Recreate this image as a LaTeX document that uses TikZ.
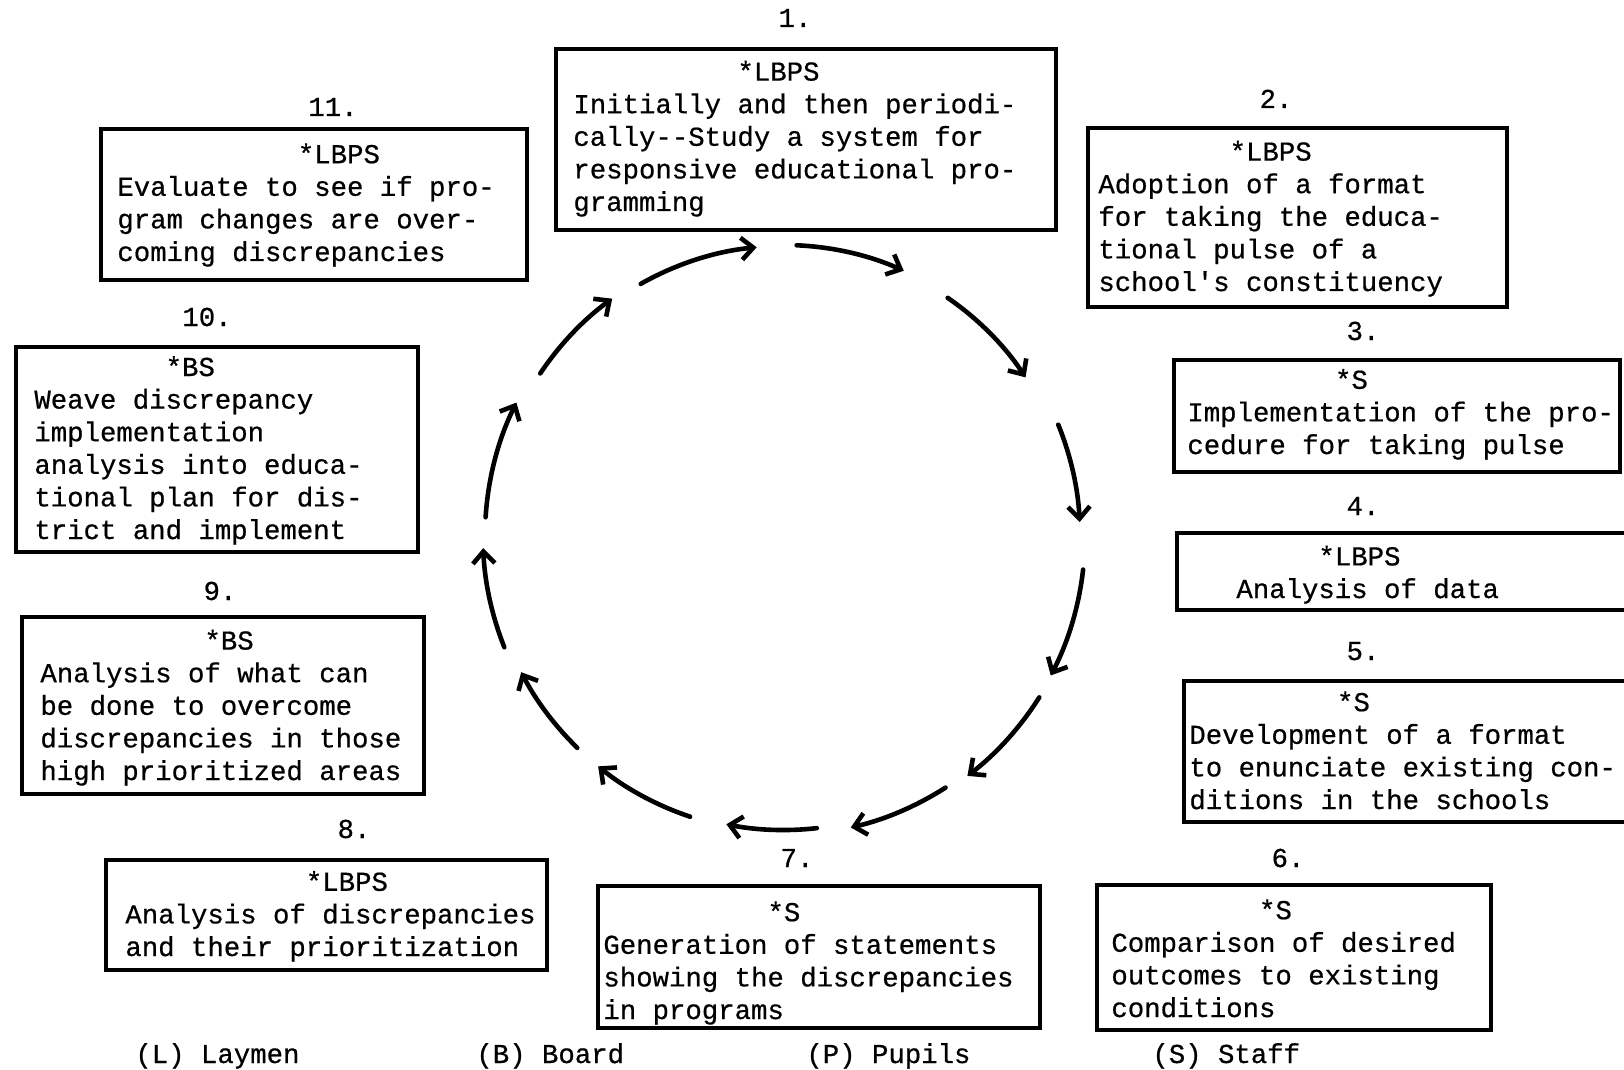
\documentclass[tikz,border=0pt]{standalone}
\usepackage{fontspec}
\setmonofont[FakeBold=0.6]{Liberation Mono}
\usetikzlibrary{arrows.meta,calc}
\newcommand\bx[5]{\node[box, minimum width={(#4-#2)*0.5pt}, minimum height={(#5-#3)*0.5pt}] (#1) at ({(#2+#4)/2},{(#3+#5)/2}) {};}
\newcommand\ind[1]{\hphantom{#1}}
\begin{document}
\begin{tikzpicture}[x=0.5pt,y=-0.5pt,
  box/.style={draw, line width=1.6pt, inner sep=0pt},
  txt/.style={font=\ttfamily\fontsize{13.67pt}{16.3pt}\selectfont, align=left, anchor=base west, inner sep=0pt},
  num/.style={font=\ttfamily\fontsize{13.67pt}{16.3pt}\selectfont, anchor=base, inner sep=0pt},
  arr/.style={line width=2.3pt, line cap=round, -{Straight Barb[length=6pt,width=11pt]}}]
\useasboundingbox (0,0) rectangle (1624,1070);
% boxes
\bx{b1}{556}{49}{1056}{230}
\bx{b11}{101}{129}{527}{280}
\bx{b2}{1088}{128}{1507}{307}
\bx{b3}{1174}{360}{1620}{472}
\bx{b4}{1177}{533}{1660}{610}
\bx{b5}{1184}{681}{1660}{822}
\bx{b6}{1097}{885}{1491}{1030}
\bx{b7}{598}{886}{1040}{1028}
\bx{b8}{106}{860}{547}{970}
\bx{b9}{22}{617}{424}{794}
\bx{b10}{16}{347}{418}{552}
% numbers
\node[num] (n1) at (795,27) {1.};
\node[num] (n11) at (333,116) {11.};
\node[num] (n2) at (1276,108) {2.};
\node[num] (n3) at (1363,340) {3.};
\node[num] (n4) at (1363,515) {4.};
\node[num] (n5) at (1363,660) {5.};
\node[num] (n6) at (1288,867) {6.};
\node[num] (n7) at (797,867) {7.};
\node[num] (n8) at (354,838) {8.};
\node[num] (n9) at (220,600) {9.};
\node[num] (n10) at (207,326) {10.};
% texts (anchored at the baseline of their last line)
\node[txt] (t1) at (573,211) {\ind{0000000000}*LBPS\\Initially and then periodi-\\cally--Study a system for\\responsive educational pro-\\gramming};
\node[txt] (t11) at (117,261) {\ind{00000000000}*LBPS\\Evaluate to see if pro-\\gram changes are over-\\coming discrepancies};
\node[txt] (t2) at (1098,291) {\ind{00000000}*LBPS\\Adoption of a format\\for taking the educa-\\tional pulse of a\\school's constituency};
\node[txt] (t3) at (1187,454) {\ind{000000000}*S\\Implementation of the pro-\\cedure for taking pulse};
\node[txt] (t4) at (1236,598) {\ind{00000}*LBPS\\Analysis of data};
\node[txt] (t5) at (1189,809) {\ind{000000000}*S\\Development of a format\\to enunciate existing con-\\ditions in the schools};
\node[txt] (t6) at (1111,1017) {\ind{000000000}*S\\Comparison of desired\\outcomes to existing\\conditions};
\node[txt] (t7) at (603,1019) {\ind{0000000000}*S\\Generation of statements\\showing the discrepancies\\in programs};
\node[txt] (t8) at (125,956) {\ind{00000000000}*LBPS\\Analysis of discrepancies\\and their prioritization};
\node[txt] (t9) at (40,780) {\ind{0000000000}*BS\\Analysis of what can\\be done to overcome\\discrepancies in those\\high prioritized areas};
\node[txt] (t10) at (34,539) {\ind{00000000}*BS\\Weave discrepancy\\implementation\\analysis into educa-\\tional plan for dis-\\trict and implement};
% legend
\node[txt] (lL) at (135,1063) {(L) Laymen};
\node[txt] (lB) at (476,1063) {(B) Board};
\node[txt] (lP) at (806,1063) {(P) Pupils};
\node[txt] (lS) at (1152,1063) {(S) Staff};
% cycle arrows
\coordinate (c) at (784,536);
\foreach \nm/\sa/\ea/\r in {A/-176.4/-153.5/299, B/-146.3/-125.9/293, C/-119.6/-95.4/290,
  D/-87.5/-65.7/291, E/-55.5/-33.3/289, F/-22.1/-2.7/296, G/6.4/27.6/301,
  H/32.3/52.6/302, I/57.3/77.1/299, J/83.6/101.3/294, K/108.5/128.9/296,
  L/134.3/152.6/296, M/158.3/177.7/301}{
  \coordinate (s\nm) at ($(c)+(\sa:\r)$);
  \draw[arr] (s\nm) arc[start angle=\sa, end angle=\ea, radius=\r];
}
\end{tikzpicture}
\end{document}
